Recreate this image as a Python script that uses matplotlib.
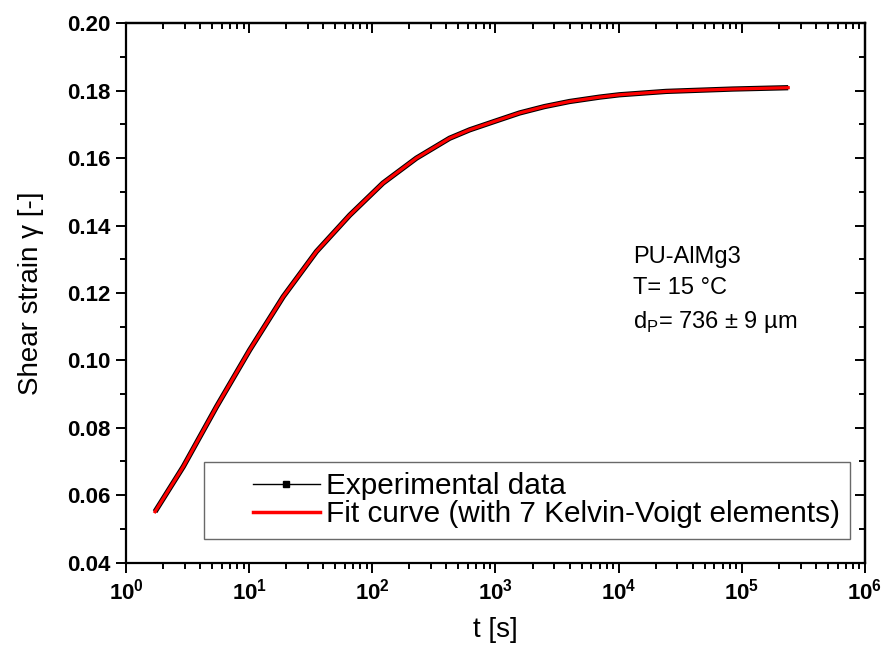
import matplotlib
matplotlib.use("Agg")
import matplotlib.pyplot as plt
from matplotlib.lines import Line2D
from matplotlib.legend_handler import HandlerLine2D
from matplotlib.ticker import LogLocator, MultipleLocator, NullFormatter

plt.rcParams['font.family'] = ['Liberation Sans', 'DejaVu Sans']
plt.rcParams['mathtext.fontset'] = 'custom'
plt.rcParams['mathtext.rm'] = 'Liberation Sans'
plt.rcParams['mathtext.bf'] = 'Liberation Sans:bold'

# values
exp_t = [1.72, 2.92, 5.44, 10.1, 18.9, 35.2, 65.6, 122, 228, 424, 617, 1000,
         1568, 2500, 3990, 6985, 10150, 24270, 84200, 238000]
exp_gamma = [0.0551, 0.0685, 0.0863, 0.1031, 0.1189, 0.1323, 0.1431, 0.1526,
             0.1600, 0.1659, 0.1684, 0.1710, 0.1734, 0.1753, 0.1768, 0.1781,
             0.1788, 0.1798, 0.1805, 0.1809]
fit_t = exp_t
fit_gamma = exp_gamma

x_ticks = [1e0, 1e1, 1e2, 1e3, 1e4, 1e5, 1e6]
x_ticklabels = [r'$\mathbf{10^{%d}}$' % i for i in range(7)]
y_ticks = [0.04, 0.06, 0.08, 0.10, 0.12, 0.14, 0.16, 0.18, 0.20]

fig = plt.figure(figsize=(8.83, 6.46), dpi=100)
ax = fig.add_axes([0.1427, 0.1291, 0.8369, 0.8348])

# dense experimental points show as a black band around the fit
ax.plot(exp_t, exp_gamma, color='black', lw=3.8, solid_capstyle='butt',
        solid_joinstyle='round', zorder=2)
ax.plot(fit_t, fit_gamma, color='red', lw=2.3, solid_joinstyle='round', zorder=3)

ax.set_xscale('log')
ax.set_xlim(1, 1e6)
ax.set_ylim(0.04, 0.20)
ax.set_xticks(x_ticks)
ax.set_xticklabels(x_ticklabels)
ax.xaxis.set_minor_locator(LogLocator(base=10, subs=range(2, 10)))
ax.xaxis.set_minor_formatter(NullFormatter())
ax.set_yticks(y_ticks)
ax.set_yticklabels(['%.2f' % v for v in y_ticks])
ax.yaxis.set_minor_locator(MultipleLocator(0.01))

ax.tick_params(which='major', direction='out', length=7.5, width=1.4,
               labelsize=16, pad=4)
ax.tick_params(which='minor', direction='out', length=4.5, width=1.4)
for lab in ax.get_yticklabels():
    lab.set_fontweight('bold')
for s in ax.spines.values():
    s.set_linewidth(1.6)

# mirrored ticks on top and right, pointing inward
top = ax.secondary_xaxis('top')
top.set_xticks(x_ticks)
top.xaxis.set_minor_locator(LogLocator(base=10, subs=range(2, 10)))
top.tick_params(which='major', direction='in', length=7.5, width=1.4, labeltop=False)
top.tick_params(which='minor', direction='in', length=4.5, width=1.4)
top.xaxis.set_minor_formatter(NullFormatter())
top.spines['top'].set_linewidth(1.6)
right = ax.secondary_yaxis('right')
right.set_yticks(y_ticks)
right.yaxis.set_minor_locator(MultipleLocator(0.01))
right.tick_params(which='major', direction='in', length=7.5, width=1.4, labelright=False)
right.tick_params(which='minor', direction='in', length=4.5, width=1.4)
right.spines['right'].set_linewidth(1.6)

ax.set_xlabel('t [s]', fontsize=20, labelpad=9)
ax.set_ylabel('Shear strain γ [-]', fontsize=20, labelpad=16)

ax.text(0.686, 0.588, 'PU-AlMg3\nT= 15 °C\nd$_\\mathregular{P}$= 736 ± 9 µm',
        transform=ax.transAxes, fontsize=17, va='top', ha='left',
        linespacing=1.55)

h_exp = Line2D([], [], color='black', lw=1, marker='s', markersize=4)
h_fit = Line2D([], [], color='red', lw=2.5)
leg = ax.legend([h_exp, h_fit], ['Experimental data',
                                 'Fit curve (with 7 Kelvin-Voigt elements)'],
                loc='lower right', bbox_to_anchor=(0.98, 0.044),
                fontsize=21.4, frameon=True, fancybox=False, edgecolor='#444444',
                handlelength=3.54, handletextpad=0.2, borderpad=0.35,
                labelspacing=0.0, borderaxespad=0, numpoints=1,
                handler_map={Line2D: HandlerLine2D(xpad=1.28)})
leg.get_frame().set_linewidth(1.0)

fig.savefig('out.png', dpi=100)
